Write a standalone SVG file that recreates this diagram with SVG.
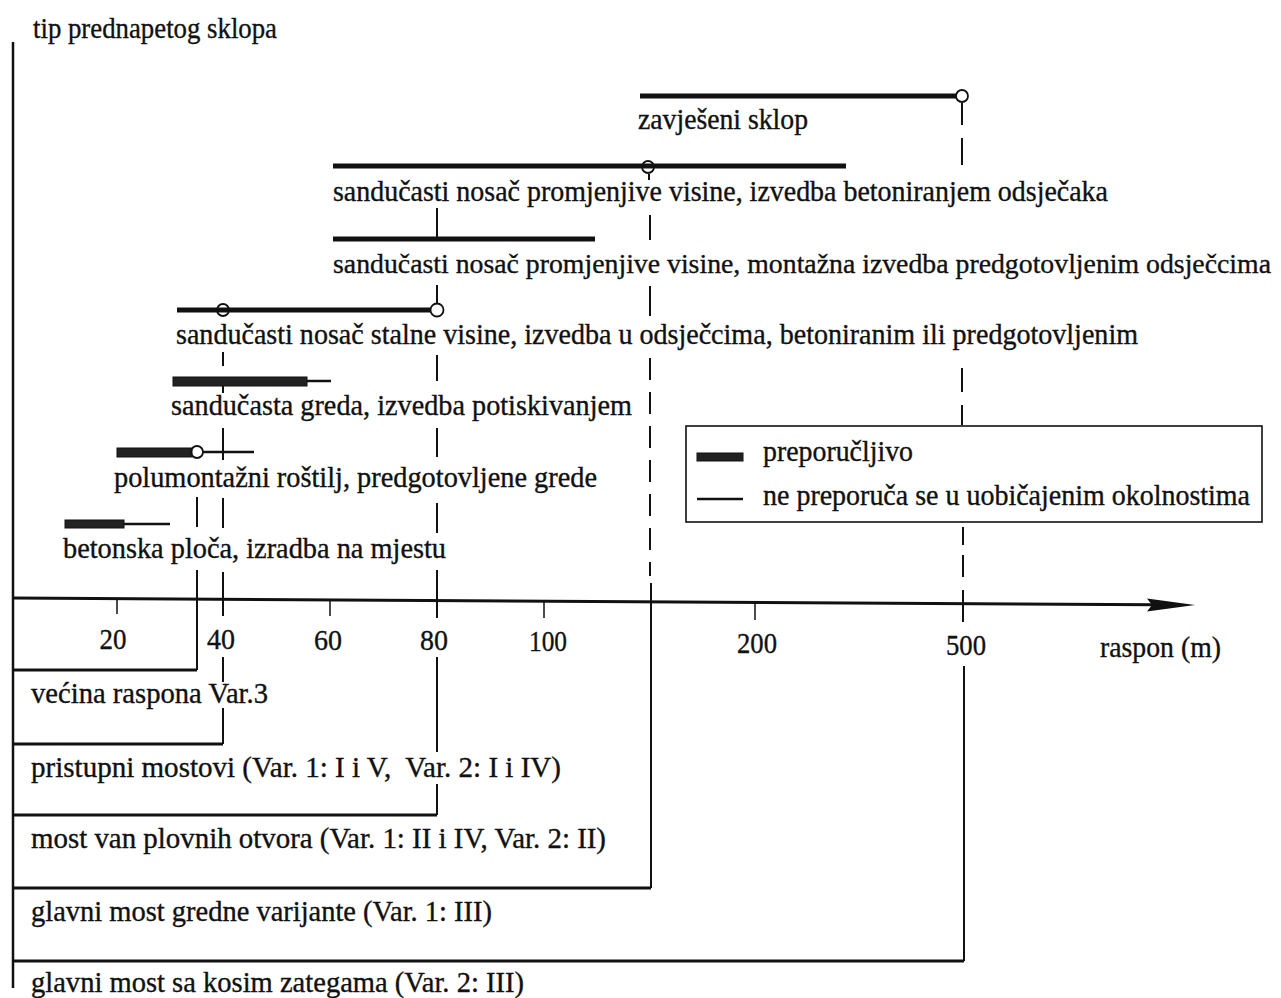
<svg xmlns="http://www.w3.org/2000/svg" width="1281" height="998" viewBox="0 0 1281 998">
<style>
text{font-family:"Liberation Serif","Times New Roman",serif;font-size:28.5px;fill:#111;stroke:#111;stroke-width:0.35}
.num{font-size:29px;text-anchor:middle}
.ln{stroke:#111;fill:none}
.bar{stroke:#111;stroke-width:5;fill:none}
.thick{fill:#222;stroke:#111;stroke-width:1}
.thin{stroke:#111;stroke-width:2.5;fill:none}
.circ{fill:none;stroke:#111;stroke-width:1.8}
.ref{stroke:#111;stroke-width:2;fill:none}
.brkb{stroke:#111;stroke-width:3;fill:none}
</style>
<rect width="1281" height="998" fill="#fff"/>

<g id="connectors">
  <!-- vertical axis -->
  <line class="ln" x1="13" y1="42" x2="13" y2="988" stroke-width="2.5"/>
  <!-- horizontal axis -->
  <line class="ln" x1="13" y1="598" x2="1155" y2="604.8" stroke-width="3"/>
  <polygon points="1147,598.5 1195,605 1147,611.5 1152,605" fill="#111"/>
  <!-- axis ticks -->
  <line class="ln" x1="117" y1="598" x2="117" y2="614" stroke-width="1.5"/>
  <line class="ln" x1="330" y1="600" x2="330" y2="616" stroke-width="1.5"/>
  <line class="ln" x1="544" y1="601" x2="544" y2="618" stroke-width="1.5"/>
  <line class="ln" x1="755" y1="603" x2="755" y2="620" stroke-width="1.5"/>

  <!-- reference line x=197 -->
  <path class="ref" d="M197,497 V527 M197,570 V670"/>
  <!-- reference line x=223 (40) -->
  <path class="ref" d="M223,352 V366 M223,384 V393 M223,428 V460 M223,498 V528 M223,572 V616 M223,657 V682 M223,708 V744"/>
  <!-- reference line x=437 (80) -->
  <path class="ref" d="M437,208 V239 M437,285 V304 M437,355 V381 M437,428 V457 M437,503 V533 M437,570 V618 M437,657 V752 M437,784 V815"/>
  <!-- reference line x=650 (150) -->
  <path class="ref" d="M649,174 V180 M650,215 V240 M650,286 V316 M650,358 V380 M650,392 V414 M650,426 V448 M650,460 V482 M650,494 V516 M650,528 V550 M650,562 V576 M651,583 V888"/>
  <!-- reference line x=963 (500) -->
  <path class="ref" d="M962,103 V125 M962,138 V165 M962,368 V392 M962,405 V425 M963,527 V545 M963,555 V577 M963,590 V622 M964,666 V961"/>

  <!-- brackets -->
  <path class="brkb" d="M13,670 H197"/>
  <path class="brkb" d="M13,744 H223"/>
  <path class="brkb" d="M13,815 H437"/>
  <path class="brkb" d="M13,888 H651"/>
  <path class="brkb" d="M13,961 H964"/>
</g>

<g id="axis-labels">
  <text x="33" y="38" textLength="244" lengthAdjust="spacingAndGlyphs">tip prednapetog sklopa</text>
  <text class="num" x="113" y="649" textLength="27" lengthAdjust="spacingAndGlyphs">20</text>
  <text class="num" x="221" y="649" textLength="28" lengthAdjust="spacingAndGlyphs">40</text>
  <text class="num" x="328" y="650" textLength="28" lengthAdjust="spacingAndGlyphs">60</text>
  <text class="num" x="434" y="650" textLength="28" lengthAdjust="spacingAndGlyphs">80</text>
  <text class="num" x="548" y="651" textLength="38" lengthAdjust="spacingAndGlyphs">100</text>
  <text class="num" x="757" y="653" textLength="40" lengthAdjust="spacingAndGlyphs">200</text>
  <text class="num" x="966" y="655" textLength="40" lengthAdjust="spacingAndGlyphs">500</text>
  <text x="1100" y="657" textLength="121" lengthAdjust="spacingAndGlyphs">raspon (m)</text>
</g>

<g id="zavjeseni">
  <line class="bar" x1="640" y1="96" x2="956" y2="96" stroke-width="4.5"/>
  <circle class="circ" cx="962" cy="96" r="6"/>
  <text x="638" y="129" textLength="170" lengthAdjust="spacingAndGlyphs">zavješeni sklop</text>
</g>

<g id="promjenjive-betoniranje">
  <line class="bar" x1="333" y1="166" x2="846" y2="166"/>
  <circle class="circ" cx="648" cy="167" r="6"/>
  <text x="333" y="201" textLength="775" lengthAdjust="spacingAndGlyphs">sandučasti nosač promjenjive visine, izvedba betoniranjem odsječaka</text>
</g>

<g id="promjenjive-montazna">
  <line class="bar" x1="333" y1="239" x2="595" y2="239"/>
  <text x="333" y="273" font-size="27.5" style="font-size:27.5px" textLength="938" lengthAdjust="spacingAndGlyphs">sandučasti nosač promjenjive visine, montažna izvedba predgotovljenim odsječcima</text>
</g>

<g id="stalne-visine">
  <line class="bar" x1="177" y1="310" x2="431" y2="310" stroke-width="4.5"/>
  <circle class="circ" cx="223" cy="310" r="6"/>
  <circle class="circ" cx="437" cy="310" r="6.5"/>
  <text x="176" y="344" textLength="962" lengthAdjust="spacingAndGlyphs">sandučasti nosač stalne visine, izvedba u odsječcima, betoniranim ili predgotovljenim</text>
</g>

<g id="sanducasta-greda">
  <rect class="thick" x="173" y="377" width="134" height="9"/>
  <line class="thin" x1="307" y1="381" x2="331" y2="381"/>
  <text x="171" y="415" textLength="461" lengthAdjust="spacingAndGlyphs">sandučasta greda, izvedba potiskivanjem</text>
</g>

<g id="polumontazni">
  <rect class="thick" x="117" y="448" width="75" height="9"/>
  <circle class="circ" cx="197" cy="452" r="6"/>
  <line class="thin" x1="203" y1="452" x2="254" y2="452"/>
  <text x="114" y="487" textLength="483" lengthAdjust="spacingAndGlyphs">polumontažni roštilj, predgotovljene grede</text>
</g>

<g id="betonska-ploca">
  <rect class="thick" x="65" y="520" width="59" height="8"/>
  <line class="thin" x1="124" y1="524" x2="170" y2="524"/>
  <text x="63" y="558" textLength="383" lengthAdjust="spacingAndGlyphs">betonska ploča, izradba na mjestu</text>
</g>

<g id="legend">
  <rect x="686" y="426" width="576" height="96" fill="#fff" stroke="#111" stroke-width="1.6"/>
  <rect class="thick" x="697" y="453" width="46" height="8"/>
  <line class="thin" x1="697" y1="499" x2="743" y2="499"/>
  <text x="763" y="461" textLength="150" lengthAdjust="spacingAndGlyphs">preporučljivo</text>
  <text x="763" y="505" textLength="487" lengthAdjust="spacingAndGlyphs">ne preporuča se u uobičajenim okolnostima</text>
</g>

<g id="bottom-groups">
  <text x="31" y="703" textLength="237" lengthAdjust="spacingAndGlyphs">većina raspona Var.3</text>
  <text x="31" y="777" textLength="530" lengthAdjust="spacingAndGlyphs" xml:space="preserve">pristupni mostovi (Var. 1: I i V,  Var. 2: I i IV)</text>
  <text x="31" y="848" textLength="575" lengthAdjust="spacingAndGlyphs">most van plovnih otvora (Var. 1: II i IV, Var. 2: II)</text>
  <text x="31" y="921" textLength="461" lengthAdjust="spacingAndGlyphs">glavni most gredne varijante (Var. 1: III)</text>
  <text x="31" y="992" textLength="493" lengthAdjust="spacingAndGlyphs">glavni most sa kosim zategama (Var. 2: III)</text>
</g>
</svg>
